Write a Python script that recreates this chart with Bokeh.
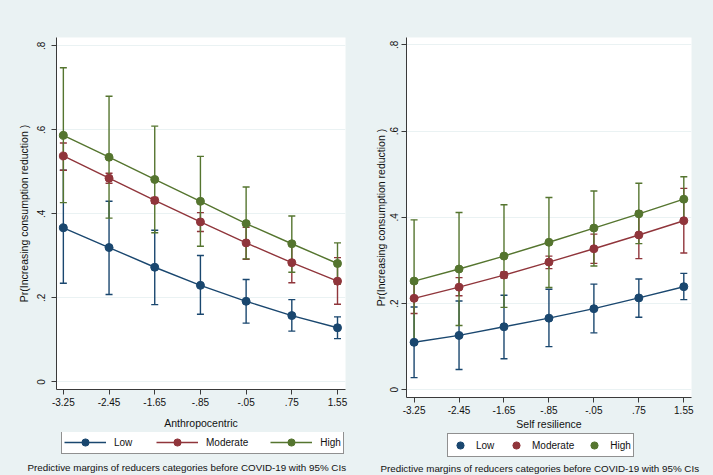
from bokeh.plotting import figure
from bokeh.models import (ColumnDataSource, Whisker, TeeHead, Legend, LegendItem,
                          FixedTicker, Label, Range1d)
from bokeh.layouts import row, column
from bokeh.embed import file_html
from bokeh.resources import INLINE

# ---------------- data ----------------
x_values = [-3.25, -2.45, -1.65, -0.85, -0.05, 0.75, 1.55]
x_tick_labels = ["-3.25", "-2.45", "-1.65", "-.85", "-.05", ".75", "1.55"]
y_ticks = [0, 0.2, 0.4, 0.6, 0.8]
y_tick_labels = ["0", ".2", ".4", ".6", ".8"]
categories = ["Low", "Moderate", "High"]

# Left panel: Anthropocentric
anth_low = [0.367, 0.320, 0.273, 0.230, 0.192, 0.158, 0.129]
anth_low_lo = [0.235, 0.208, 0.184, 0.161, 0.140, 0.121, 0.103]
anth_low_hi = [0.504, 0.430, 0.361, 0.301, 0.244, 0.196, 0.155]
anth_mod = [0.538, 0.485, 0.432, 0.381, 0.331, 0.284, 0.240]
anth_mod_lo = [0.504, 0.473, 0.425, 0.358, 0.292, 0.236, 0.185]
anth_mod_hi = [0.569, 0.497, 0.439, 0.403, 0.368, 0.332, 0.296]
anth_high = [0.587, 0.535, 0.482, 0.430, 0.377, 0.329, 0.282]
anth_high_lo = [0.427, 0.390, 0.355, 0.323, 0.293, 0.261, 0.233]
anth_high_hi = [0.748, 0.680, 0.609, 0.537, 0.464, 0.395, 0.331]

# Right panel: Self resilience
res_low = [0.110, 0.126, 0.146, 0.166, 0.188, 0.213, 0.239]
res_low_lo = [0.028, 0.047, 0.072, 0.100, 0.132, 0.168, 0.209]
res_low_hi = [0.192, 0.206, 0.219, 0.233, 0.245, 0.257, 0.270]
res_mod = [0.212, 0.238, 0.266, 0.296, 0.327, 0.359, 0.392]
res_mod_lo = [0.177, 0.218, 0.259, 0.281, 0.293, 0.304, 0.317]
res_mod_hi = [0.247, 0.260, 0.273, 0.310, 0.361, 0.414, 0.467]
res_high = [0.252, 0.280, 0.310, 0.342, 0.375, 0.408, 0.442]
res_high_lo = [0.110, 0.149, 0.191, 0.237, 0.287, 0.339, 0.390]
res_high_hi = [0.394, 0.411, 0.429, 0.446, 0.461, 0.479, 0.494]

y_title = "Pr(Increasing consumption reduction )"
note_text = "Predictive margins of reducers categories before COVID-19 with 95% CIs"

# ---------------- style ----------------
BG = "#eaf2f3"
COLORS = ["#1a476f", "#90353b", "#55752f"]
FONT = "Liberation Sans"
BG_STYLE = {"background-color": BG}

# strip under both plots, holding the two legends and the two notes
strip = figure(width=713, height=43, x_range=Range1d(100, 200), y_range=Range1d(100, 200),
               min_border=0, output_backend="svg", toolbar_location=None,
               x_axis_location=None, y_axis_location=None,
               background_fill_color=BG, border_fill_color=BG, outline_line_color=None)
strip.grid.visible = False


def make_panel(series, x_title, width, height, border, x_range, y_range,
               standoffs, legend_lines, legend_style, legend_pos, note_pos):
    bl, br, bt, bb = border
    p = figure(width=width, height=height, x_range=Range1d(*x_range),
               y_range=Range1d(*y_range), min_border_left=bl, min_border_right=br,
               min_border_top=bt, min_border_bottom=bb, output_backend="svg",
               toolbar_location=None, background_fill_color="white",
               border_fill_color=BG, outline_line_color=None)
    p.xgrid.visible = False
    p.ygrid.grid_line_color = BG
    p.ygrid.grid_line_width = 1.2

    p.xaxis.ticker = FixedTicker(ticks=x_values)
    p.xaxis.major_label_overrides = dict(zip(x_values, x_tick_labels))
    p.yaxis.ticker = FixedTicker(ticks=y_ticks)
    p.yaxis.major_label_overrides = dict(zip(y_ticks, y_tick_labels))
    p.yaxis.major_label_orientation = "vertical"
    p.xaxis.axis_label = x_title
    p.yaxis.axis_label = y_title
    for ax in (p.xaxis, p.yaxis):
        ax.axis_line_color = "#3a3a3a"
        ax.major_tick_line_color = "#3a3a3a"
        ax.major_tick_out = 5
        ax.major_tick_in = 0
        ax.minor_tick_out = 0
        ax.minor_tick_in = 0
        ax.major_label_text_font = FONT
        ax.major_label_text_font_size = "10px"
        ax.major_label_text_color = "#111111"
        ax.axis_label_text_font = FONT
        ax.axis_label_text_font_size = "10.5px"
        ax.axis_label_text_font_style = "normal"
        ax.axis_label_text_color = "#111111"
    xls, xts, yls, yts = standoffs
    p.xaxis.major_label_standoff = xls
    p.xaxis.axis_label_standoff = xts
    p.yaxis.major_label_standoff = yls
    p.yaxis.axis_label_standoff = yts

    # confidence intervals first
    sources = []
    for (mid, lo, hi), col in zip(series, COLORS):
        src = ColumnDataSource(dict(x=x_values, y=mid, lo=lo, hi=hi))
        sources.append(src)
        w = Whisker(source=src, base="x", lower="lo", upper="hi", dimension="height",
                    line_color=col, line_width=1.4,
                    lower_head=TeeHead(size=7, line_color=col, line_width=1.4),
                    upper_head=TeeHead(size=7, line_color=col, line_width=1.4))
        p.add_layout(w)

    items = []
    for src, col, name in zip(sources, COLORS, categories):
        p.line("x", "y", source=src, line_color=col, line_width=1.4)
        p.scatter("x", "y", source=src, size=8, fill_color=col, line_color=col)
        # same series in the strip (outside its visible range) for the legend keys
        sr = strip.scatter("x", "y", source=src, size=8, fill_color=col, line_color=col)
        if legend_lines:
            lr = strip.line("x", "y", source=src, line_color=col, line_width=1.4)
            items.append(LegendItem(label=name, renderers=[lr, sr]))
        else:
            items.append(LegendItem(label=name, renderers=[sr]))

    gw, pad, sp, st = legend_style
    leg = Legend(items=items, orientation="horizontal", location=legend_pos,
                 margin=0, padding=pad, spacing=sp, label_standoff=st,
                 glyph_width=gw, glyph_height=18, label_height=12,
                 label_text_font=FONT, label_text_font_size="10px",
                 label_text_color="#111111", border_line_color="#222222",
                 border_line_width=1, background_fill_color="white",
                 background_fill_alpha=1.0)
    strip.add_layout(leg)

    strip.add_layout(Label(x=note_pos[0], y=note_pos[1], x_units="screen", y_units="screen",
                           text=note_text, text_align="left", text_baseline="middle",
                           text_font=FONT, text_font_size="9.8px", text_color="#111111"))
    return column(p, spacing=0, styles=BG_STYLE)


left = make_panel(
    [(anth_low, anth_low_lo, anth_low_hi),
     (anth_mod, anth_mod_lo, anth_mod_hi),
     (anth_high, anth_high_lo, anth_high_hi)],
    "Anthropocentric", 358, 432, (56, 13, 37, 43), (-3.37, 1.69), (-0.018, 0.82),
    (3, 8, 6, 5), True, (42, 2, 22, 8), (61, 21), (27, 8))

right = make_panel(
    [(res_low, res_low_lo, res_low_hi),
     (res_mod, res_mod_lo, res_mod_hi),
     (res_high, res_high_lo, res_high_hi)],
    "Self resilience", 355, 432, (48, 22, 37, 32), (-3.385, 1.687), (-0.018, 0.817),
    (3, 1, 3, 1), False, (20, 2, 10, 6), (447, 18), (380, 7))

p = column(row(left, right, spacing=0, styles=BG_STYLE), strip, spacing=0, styles=BG_STYLE)
open("out.html", "w").write(file_html(p, INLINE))
